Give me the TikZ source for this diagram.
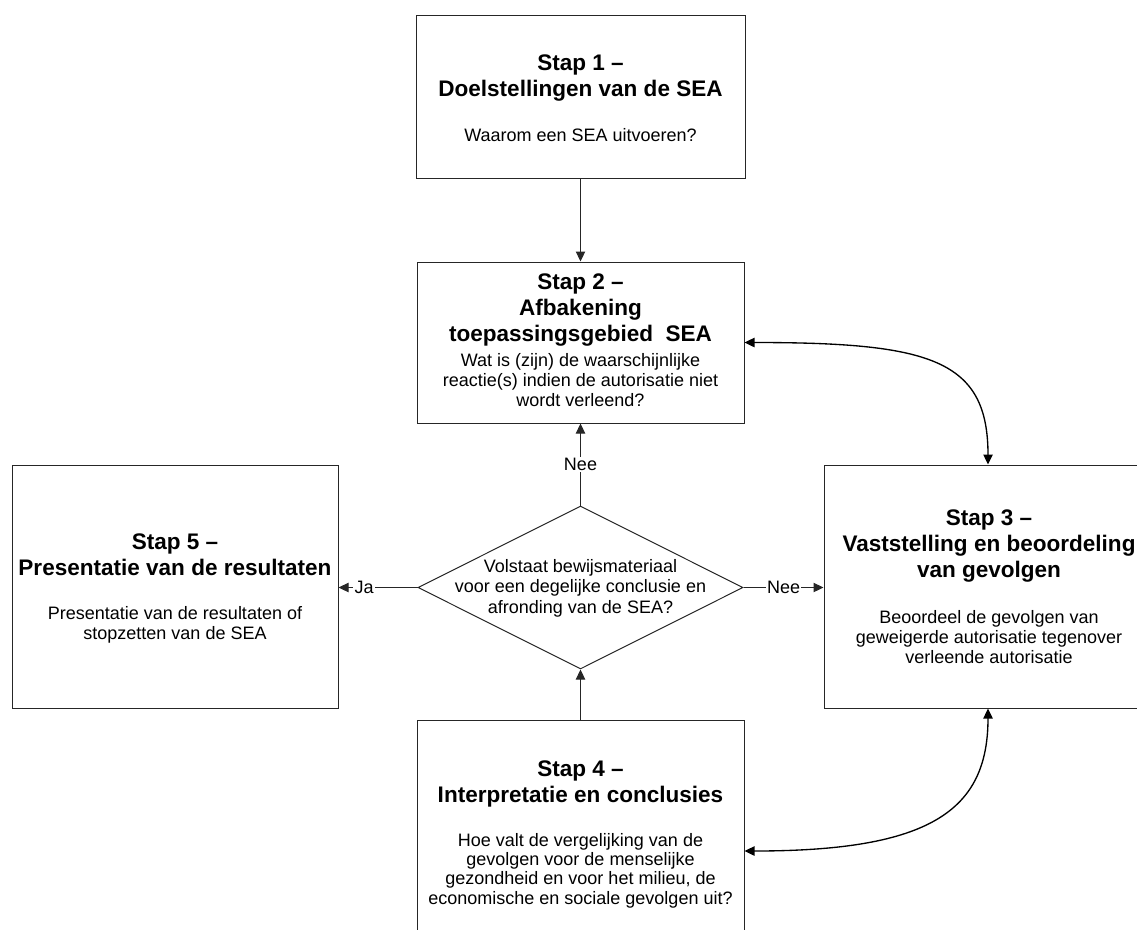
\documentclass[tikz,border=0pt]{standalone}
\usepackage{fontspec}
\setmainfont{Liberation Sans}
\usetikzlibrary{arrows.meta,shapes.geometric,fit}

\tikzset{
  stepbox/.style={draw=black!85, line width=0.75pt, rectangle, inner sep=0pt},
  decision/.style={draw=black!85, line width=0.75pt, diamond, inner sep=0pt,
    minimum width=243.75pt, minimum height=122.25pt},
  head/.style={anchor=base, inner sep=0pt, font=\fontsize{16.9pt}{19.5pt}\selectfont\bfseries},
  body/.style={anchor=base, inner sep=0pt, font=\fontsize{13.5pt}{15pt}\selectfont},
  conn/.style={draw=black!85, line width=0.75pt, -{Triangle[length=7.5pt,width=7pt]}},
  curv/.style={draw=black, line width=1pt,
    {Triangle[length=7.5pt,width=7pt]}-{Triangle[length=7.5pt,width=7pt]}},
  lab/.style={fill=white, inner sep=1pt, font=\fontsize{13.5pt}{15pt}\selectfont},
}

\begin{document}
\begin{tikzpicture}[x=0.75pt,y=-0.75pt]
\useasboundingbox (0,0) rectangle (1137,929);
\clip (0,0) rectangle (1137,929);

% step boxes
\node[stepbox, fit={(416,15) (745,178)}] (b1) {};
\node[stepbox, fit={(417,262) (744,423)}] (b2) {};
\node[stepbox, fit={(824,465) (1152,708)}] (b3) {};
\node[stepbox, fit={(417,720) (744,982)}] (b4) {};
\node[stepbox, fit={(12,465) (338,708)}] (b5) {};
\node[decision] (d) at (580.5,587.5) {};

% step 1
\node[head] (b1h1) at (580.5,70) {Stap 1 –};
\node[head] (b1h2) at (580.5,96) {Doelstellingen van de SEA};
\node[body] (b1t1) at (580.5,141) {Waarom een SEA uitvoeren?};

% step 2
\node[head] (b2h1) at (580.5,289) {Stap 2 –};
\node[head] (b2h2) at (580.5,315) {Afbakening};
\node[head] (b2h3) at (580.5,341) {toepassingsgebied\ \ SEA};
\node[body] (b2t1) at (580.5,366) {Wat is (zijn) de waarschijnlijke};
\node[body] (b2t2) at (580.5,386) {reactie(s) indien de autorisatie niet};
\node[body] (b2t3) at (580.5,406) {wordt verleend?};

% step 3
\node[head] (b3h1) at (989,525) {Stap 3 –};
\node[head] (b3h2) at (989,551) {Vaststelling en beoordeling};
\node[head] (b3h3) at (989,577) {van gevolgen};
\node[body] (b3t1) at (989,623) {Beoordeel de gevolgen van};
\node[body] (b3t2) at (989,643) {geweigerde autorisatie tegenover};
\node[body] (b3t3) at (989,663) {verleende autorisatie};

% step 4
\node[head] (b4h1) at (580.5,776) {Stap 4 –};
\node[head] (b4h2) at (580.5,802) {Interpretatie en conclusies};
\node[body] (b4t1) at (580.5,846) {Hoe valt de vergelijking van de};
\node[body] (b4t2) at (580.5,865.3) {gevolgen voor de menselijke};
\node[body] (b4t3) at (580.5,884.6) {gezondheid en voor het milieu, de};
\node[body] (b4t4) at (580.5,904) {economische en sociale gevolgen uit?};

% step 5
\node[head] (b5h1) at (175,549) {Stap 5 –};
\node[head] (b5h2) at (175,575) {Presentatie van de resultaten};
\node[body] (b5t1) at (175,619) {Presentatie van de resultaten of};
\node[body] (b5t2) at (175,639) {stopzetten van de SEA};

% decision
\node[body] (dt1) at (580.5,572) {Volstaat bewijsmateriaal};
\node[body] (dt2) at (580.5,592.5) {voor een degelijke conclusie en};
\node[body] (dt3) at (580.5,613) {afronding van de SEA?};

% connectors
\draw[conn] (b1.south) -- (b2.north);
\draw[conn] (d.north) -- node[lab] (lnee1) {Nee} (b2.south);
\draw[conn] (d.west) -- node[lab, pos=0.675] (lja) {Ja} (d.west -| b5.east);
\draw[conn] (d.east) -- node[lab] (lnee2) {Nee} (d.east -| b3.west);
\draw[conn] (b4.north) -- (d.south);
\draw[curv] (b2.east) .. controls +(186,0) and +(0,-105) .. (b3.north);
\draw[curv] (b3.south) .. controls +(0,102) and +(186,0) .. (b4.east);
\end{tikzpicture}
\end{document}
